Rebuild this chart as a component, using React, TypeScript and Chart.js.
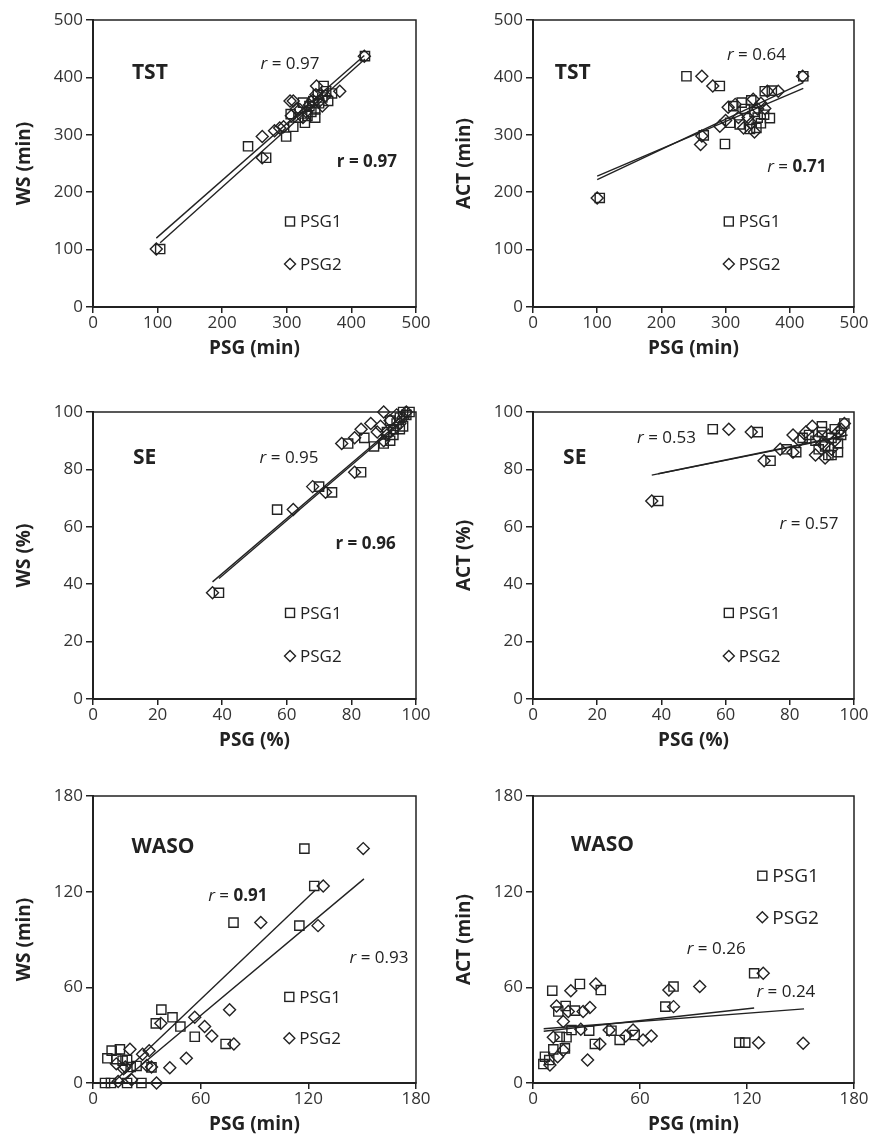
import React, { useEffect, useRef } from 'react';
import { Chart, registerables } from 'chart.js';

Chart.register(...registerables);

type Pt = [number, number];

// ---------- TST (min) ----------
const TST_WS_PSG1: Pt[] = [[104,101],[240,280],[268,260],[299,297],[310,314],[318,330],[325,356],[328,321],[335,350],[338,340],[341,359],[344,330],[344,344],[348,370],[350,355],[355,365],[357,385],[361,376],[364,359],[370,372],[421,437],[306,336],[332,333]];
const TST_WS_PSG2: Pt[] = [[98,101],[262,260],[262,297],[281,307],[289,312],[295,314],[307,333],[305,359],[310,359],[315,345],[320,344],[325,330],[330,340],[335,352],[340,360],[345,370],[346,385],[350,358],[355,350],[360,368],[382,376],[420,437]];
const TST_WS_FIT1: Pt[] = [[104,112],[421,432]];
const TST_WS_FIT2: Pt[] = [[98,120],[420,438]];

const TST_ACT_PSG1: Pt[] = [[104,190],[239,402],[291,385],[266,299],[299,284],[307,321],[312,350],[322,318],[325,356],[330,345],[338,310],[340,360],[345,340],[348,312],[350,330],[355,320],[360,335],[369,329],[361,376],[372,377],[421,402]];
const TST_ACT_PSG2: Pt[] = [[100,190],[263,402],[280,385],[263,298],[261,283],[291,315],[300,325],[304,348],[315,353],[320,330],[328,312],[335,330],[340,320],[343,362],[345,305],[350,345],[355,355],[361,346],[365,376],[382,376],[420,402]];
const TST_ACT_FIT1: Pt[] = [[100,222],[421,391]];
const TST_ACT_FIT2: Pt[] = [[100,228],[421,381]];

// ---------- SE (%) ----------
const SE_WS_PSG1: Pt[] = [[39,37],[57,66],[70,74],[74,72],[79,89],[83,79],[84,91],[87,88],[90,89],[92,90],[93,94],[94,96],[95,98],[96,100],[97,99],[92,97],[95,94],[91,93],[98,100],[93,92],[96,95]];
const SE_WS_PSG2: Pt[] = [[37,37],[62,66],[68,74],[72,72],[77,89],[81,79],[81,91],[83,94],[86,96],[90,100],[89,95],[92,97],[94,99],[95,96],[91,92],[93,94],[96,98],[88,93],[97,100],[90,90]];
const SE_WS_FIT1: Pt[] = [[39,42],[98,98.8]];
const SE_WS_FIT2: Pt[] = [[37,40.8],[97,98.4]];

const SE_ACT_PSG1: Pt[] = [[39,69],[56,94],[70,93],[74,83],[79,87],[82,86],[84,91],[86,92],[88,90],[90,93],[91,88],[92,85],[93,91],[94,94],[95,89],[96,92],[97,96],[93,85],[89,87],[90,95],[95,86]];
const SE_ACT_PSG2: Pt[] = [[37,69],[61,94],[68,93],[72,83],[77,87],[81,86],[81,92],[83,90],[85,93],[87,95],[88,85],[90,89],[91,84],[92,92],[94,90],[96,94],[97,96],[89,91],[93,87],[95,93]];
const SE_ACT_FIT1: Pt[] = [[39,78.5],[98,92]];
const SE_ACT_FIT2: Pt[] = [[37,78],[97,91.5]];

// ---------- WASO (min) ----------
const WASO_WS_PSG1: Pt[] = [[117.8,147],[123.3,123.6],[78.3,100.6],[115,98.7],[38.1,46],[44.3,41.2],[35,37.4],[48.7,35.4],[56.7,29],[73.9,24.5],[27,0],[19,0],[6.7,0],[10,0],[10.4,20.3],[15,21.1],[8,15.5],[13,15],[16.5,14],[19,14.5],[24.3,10.7],[32.6,9.8],[21,10]];
const WASO_WS_PSG2: Pt[] = [[150.6,147],[128.3,123.6],[93.5,100.6],[125.4,98.7],[76.1,46],[56.7,41.2],[37.8,37.4],[62.2,35.4],[66.2,29.5],[78.5,24.5],[52,15.5],[42.8,9.6],[35.4,0],[21.5,2],[14,1],[20.6,21.1],[27.6,18],[31.3,20.3],[13,12],[17,9],[18,10],[30,11],[32.6,10]];
const WASO_WS_FIT1: Pt[] = [[11,0],[124,121]];
const WASO_WS_FIT2: Pt[] = [[15,0],[151,128]];

const WASO_ACT_PSG1: Pt[] = [[124,68.8],[10.8,57.9],[26.3,62.1],[38,58.3],[78.8,60.5],[74.2,47.9],[14.2,44.8],[18.3,48.3],[23.5,45.4],[21.6,33.2],[31.5,32.8],[44,32.8],[57,30.1],[48.6,27],[18.8,28.7],[15,29],[34.7,24.5],[11.4,21.1],[17.9,21.7],[6.7,16.5],[9.1,14.4],[5.8,11.9],[115.7,25.3],[119,25.3]];
const WASO_ACT_PSG2: Pt[] = [[129.1,68.8],[21.2,57.9],[35.2,62.1],[76.2,58.3],[93.5,60.5],[78.8,47.9],[13.2,48.3],[19.8,44.8],[28.1,44.8],[31.9,47.3],[17,38.5],[26.8,33.7],[42.7,33.2],[56.1,33.2],[52,29.5],[61.7,27],[66.3,29.5],[11.4,28.7],[37.5,24.5],[17,20.5],[9.5,11.3],[13.8,16.5],[30.6,14.4],[126.5,25.3],[151.5,24.9]];
const WASO_ACT_FIT1: Pt[] = [[6,32.5],[124,47]];
const WASO_ACT_FIT2: Pt[] = [[6,34],[152,46.5]];

const SERIES_NAMES = ['PSG1', 'PSG2'];

const FONT = '"Open Sans", "Liberation Sans", sans-serif';
const INK = '#222';

type Part = { t: string; italic?: boolean; bold?: boolean };
type Label = { x: number; y: number; parts: Part[]; size: number };

interface PanelCfg {
  left: number; top: number; width: number; padRight: number;
  xMax: number; xStep: number; yMax: number; yStep: number;
  xTitle: string; yTitle: string;
  psg1: Pt[]; psg2: Pt[]; fit1: Pt[]; fit2: Pt[];
  labels: Label[];
  legend: { x: number; y1: number; y2: number; size: number };
}

const H = 363;

const rNorm = (v: string): Part[] => [{ t: 'r', italic: true }, { t: ' = ' + v }];
const rBold = (v: string): Part[] => [{ t: 'r', bold: true }, { t: ' = ' + v, bold: true }];
const rMixed = (v: string): Part[] => [{ t: 'r', italic: true }, { t: ' = ' }, { t: v, bold: true }];
const head = (t: string): Part[] => [{ t, bold: true }];

const PANELS: PanelCfg[] = [
  {
    left: 0, top: 0, width: 434, padRight: 18, xMax: 500, xStep: 100, yMax: 500, yStep: 100,
    xTitle: 'PSG (min)', yTitle: 'WS (min)',
    psg1: TST_WS_PSG1, psg2: TST_WS_PSG2, fit1: TST_WS_FIT1, fit2: TST_WS_FIT2,
    labels: [
      { x: 88, y: 407, parts: head('TST'), size: 21 },
      { x: 305, y: 423, parts: rNorm('0.97'), size: 17 },
      { x: 424, y: 253, parts: rBold('0.97'), size: 17 },
    ],
    legend: { x: 305, y1: 149, y2: 75, size: 17 },
  },
  {
    left: 440, top: 0, width: 429, padRight: 15, xMax: 500, xStep: 100, yMax: 500, yStep: 100,
    xTitle: 'PSG (min)', yTitle: 'ACT (min)',
    psg1: TST_ACT_PSG1, psg2: TST_ACT_PSG2, fit1: TST_ACT_FIT1, fit2: TST_ACT_FIT2,
    labels: [
      { x: 62, y: 407, parts: head('TST'), size: 21 },
      { x: 348, y: 439, parts: rNorm('0.64'), size: 17 },
      { x: 411, y: 243, parts: rMixed('0.71'), size: 17 },
    ],
    legend: { x: 305, y1: 149, y2: 75, size: 17 },
  },
  {
    left: 0, top: 392, width: 434, padRight: 18, xMax: 100, xStep: 20, yMax: 100, yStep: 20,
    xTitle: 'PSG (%)', yTitle: 'WS (%)',
    psg1: SE_WS_PSG1, psg2: SE_WS_PSG2, fit1: SE_WS_FIT1, fit2: SE_WS_FIT2,
    labels: [
      { x: 16, y: 84, parts: head('SE'), size: 21 },
      { x: 60.7, y: 84, parts: rNorm('0.95'), size: 17 },
      { x: 84.4, y: 54, parts: rBold('0.96'), size: 17 },
    ],
    legend: { x: 61, y1: 30, y2: 15, size: 17 },
  },
  {
    left: 440, top: 392, width: 429, padRight: 15, xMax: 100, xStep: 20, yMax: 100, yStep: 20,
    xTitle: 'PSG (%)', yTitle: 'ACT (%)',
    psg1: SE_ACT_PSG1, psg2: SE_ACT_PSG2, fit1: SE_ACT_FIT1, fit2: SE_ACT_FIT2,
    labels: [
      { x: 13, y: 84, parts: head('SE'), size: 21 },
      { x: 41.6, y: 90.8, parts: rNorm('0.53'), size: 17 },
      { x: 86, y: 61, parts: rNorm('0.57'), size: 17 },
    ],
    legend: { x: 61, y1: 30, y2: 15, size: 17 },
  },
  {
    left: 0, top: 776, width: 434, padRight: 18, xMax: 180, xStep: 60, yMax: 180, yStep: 60,
    xTitle: 'PSG (min)', yTitle: 'WS (min)',
    psg1: WASO_WS_PSG1, psg2: WASO_WS_PSG2, fit1: WASO_WS_FIT1, fit2: WASO_WS_FIT2,
    labels: [
      { x: 39, y: 148, parts: head('WASO'), size: 21 },
      { x: 80.7, y: 117, parts: rMixed('0.91'), size: 17 },
      { x: 159.4, y: 78.6, parts: rNorm('0.93'), size: 17 },
    ],
    legend: { x: 109.4, y1: 54, y2: 28, size: 17 },
  },
  {
    left: 440, top: 776, width: 429, padRight: 15, xMax: 180, xStep: 60, yMax: 180, yStep: 60,
    xTitle: 'PSG (min)', yTitle: 'ACT (min)',
    psg1: WASO_ACT_PSG1, psg2: WASO_ACT_PSG2, fit1: WASO_ACT_FIT1, fit2: WASO_ACT_FIT2,
    labels: [
      { x: 39, y: 149, parts: head('WASO'), size: 21 },
      { x: 102.7, y: 84, parts: rNorm('0.26'), size: 17 },
      { x: 141.8, y: 57, parts: rNorm('0.24'), size: 17 },
    ],
    legend: { x: 128.6, y1: 130, y2: 104, size: 19 },
  },
];

const fontOf = (p: Part, size: number) =>
  `${p.italic ? 'italic ' : ''}${p.bold ? 'bold ' : ''}${size}px ${FONT}`;

function makeDecor(cfg: PanelCfg) {
  return {
    id: 'panelDecor',
    afterDatasetsDraw(chart: any) {
      const { ctx, chartArea, scales } = chart;
      ctx.save();
      ctx.strokeStyle = INK;
      ctx.lineWidth = 1.5;
      ctx.strokeRect(chartArea.left, chartArea.top, chartArea.right - chartArea.left, chartArea.bottom - chartArea.top);
      ctx.fillStyle = INK;
      ctx.textBaseline = 'middle';
      ctx.textAlign = 'left';
      for (const lb of cfg.labels) {
        const px = scales.x.getPixelForValue(lb.x);
        const py = scales.y.getPixelForValue(lb.y);
        let total = 0;
        const ws = lb.parts.map((p) => {
          ctx.font = fontOf(p, lb.size);
          const w = ctx.measureText(p.t).width;
          total += w;
          return w;
        });
        let cx = px - total / 2;
        lb.parts.forEach((p, i) => {
          ctx.font = fontOf(p, lb.size);
          ctx.fillText(p.t, cx, py);
          cx += ws[i];
        });
      }
      // legend
      const lx = scales.x.getPixelForValue(cfg.legend.x);
      const ly1 = scales.y.getPixelForValue(cfg.legend.y1);
      const ly2 = scales.y.getPixelForValue(cfg.legend.y2);
      ctx.lineWidth = 1.4;
      ctx.strokeRect(lx - 4.5, ly1 - 4.5, 9, 9);
      ctx.beginPath();
      ctx.moveTo(lx, ly2 - 5.5);
      ctx.lineTo(lx + 5.5, ly2);
      ctx.lineTo(lx, ly2 + 5.5);
      ctx.lineTo(lx - 5.5, ly2);
      ctx.closePath();
      ctx.stroke();
      ctx.font = `${cfg.legend.size}px ${FONT}`;
      ctx.fillText(SERIES_NAMES[0], lx + 10, ly1 + 1);
      ctx.fillText(SERIES_NAMES[1], lx + 10, ly2 + 1);
      ctx.restore();
    },
  };
}

const toXY = (arr: Pt[]) => arr.map(([x, y]) => ({ x, y }));

function Panel({ cfg }: { cfg: PanelCfg }) {
  const ref = useRef<HTMLCanvasElement>(null);
  useEffect(() => {
    const canvas = ref.current;
    if (!canvas) return;
    const pointBase = {
      showLine: false,
      pointBackgroundColor: 'rgba(0,0,0,0)',
      pointBorderColor: INK,
      pointBorderWidth: 1.4,
      clip: false as any,
    };
    const lineBase = {
      type: 'line' as const,
      borderColor: INK,
      borderWidth: 1.4,
      pointRadius: 0,
      fill: false,
      showLine: true,
      clip: false as any,
    };
    const chart = new Chart(canvas, {
      type: 'scatter',
      data: {
        datasets: [
          { ...lineBase, label: 'fit1', data: toXY(cfg.fit1) } as any,
          { ...lineBase, label: 'fit2', data: toXY(cfg.fit2) } as any,
          { ...pointBase, label: SERIES_NAMES[0], data: toXY(cfg.psg1), pointStyle: 'rect', pointRadius: 6.5 },
          { ...pointBase, label: SERIES_NAMES[1], data: toXY(cfg.psg2), pointStyle: 'rectRot', pointRadius: 6 },
        ],
      },
      options: {
        animation: false,
        responsive: false,
        maintainAspectRatio: false,
        devicePixelRatio: 1,
        layout: { padding: { left: 0, top: 20, right: cfg.padRight, bottom: 0 } },
        plugins: { legend: { display: false }, tooltip: { enabled: false } },
        events: [],
        scales: {
          x: {
            type: 'linear',
            min: 0,
            max: cfg.xMax,
            ticks: { stepSize: cfg.xStep, color: '#333', font: { family: FONT, size: 17 }, padding: 0 },
            grid: { drawOnChartArea: false, drawTicks: true, tickLength: 6, color: INK, lineWidth: 1.5 },
            border: { display: true, color: INK, width: 2 },
            title: { display: true, text: cfg.xTitle, color: INK, font: { family: FONT, size: 19, weight: 'bold' }, padding: { top: 0, bottom: 3 } },
            afterFit: (s: any) => { s.height = 56; s.paddingLeft = 0; s.paddingRight = 0; },
          },
          y: {
            type: 'linear',
            min: 0,
            max: cfg.yMax,
            ticks: { stepSize: cfg.yStep, color: '#333', font: { family: FONT, size: 17 }, padding: 3 },
            grid: { drawOnChartArea: false, drawTicks: true, tickLength: 7, color: INK, lineWidth: 1.5 },
            border: { display: true, color: INK, width: 2 },
            title: { display: true, text: cfg.yTitle, color: INK, font: { family: FONT, size: 19, weight: 'bold' }, padding: { top: 13, bottom: 0 } },
            afterFit: (s: any) => { s.width = 93; s.paddingTop = 0; s.paddingBottom = 0; },
          },
        },
      } as any,
      plugins: [makeDecor(cfg) as any],
    });
    return () => chart.destroy();
  }, [cfg]);
  return (
    <canvas
      ref={ref}
      width={cfg.width}
      height={H}
      style={{ position: 'absolute', left: cfg.left, top: cfg.top, width: cfg.width, height: H }}
    />
  );
}

export default function App() {
  return (
    <div style={{ position: 'absolute', left: 0, top: 0, width: 869, height: 1139, overflow: 'hidden', background: '#fff' }}>
      {PANELS.map((p, i) => (
        <Panel key={i} cfg={p} />
      ))}
    </div>
  );
}
